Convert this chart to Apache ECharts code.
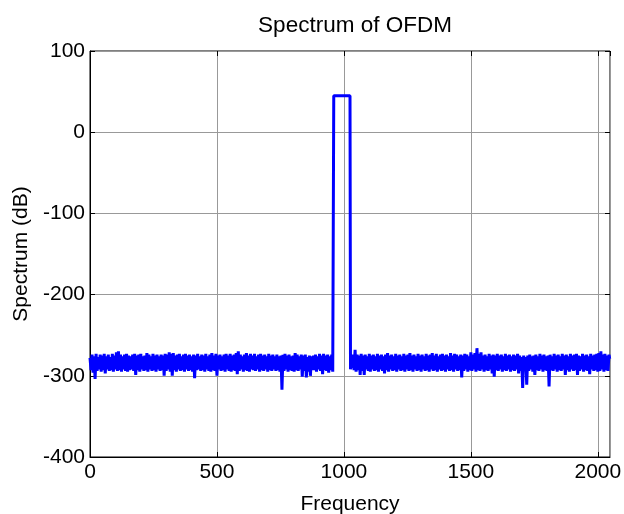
<!DOCTYPE html>
<html>
<head>
<meta charset="utf-8">
<script src="https://cdn.jsdelivr.net/npm/echarts@6/dist/echarts.min.js"></script>
<style>
  html, body { margin: 0; padding: 0; background: #fff; }
  #chart { width: 624px; height: 514px; }
</style>
</head>
<body>
<div id="chart"></div>
<script>
// noise floor left of the carrier block, one value every 4 bins starting at bin 0
const binStep = 4;
const leftStart = 0;
const noiseLeft = [
  -278, -293, -274, -296, -276, -304, -273, -294, -277, -292, -274, -295, -275, -293, -273, -297, -276, -292, -274, -294,
  -277, -293, -273, -295, -275, -292, -271, -294, -270, -293, -274, -295, -276, -292, -274, -294, -273, -295, -275, -293,
  -276, -292, -274, -294, -273, -299, -275, -293, -274, -295, -273, -292, -276, -294, -275, -293, -272, -295, -274, -292,
  -276, -294, -273, -293, -275, -295, -274, -292, -276, -294, -274, -293, -275, -300, -273, -294, -274, -292, -271, -295,
  -273, -300, -272, -293, -275, -295, -274, -292, -273, -294, -276, -293, -274, -295, -273, -292, -275, -294, -274, -293,
  -276, -295, -274, -303, -275, -293, -273, -292, -276, -294, -274, -293, -275, -295, -273, -292, -276, -294, -274, -295,
  -272, -293, -275, -294, -273, -300, -275, -292, -274, -294, -276, -293, -274, -295, -273, -292, -275, -294, -273, -295,
  -275, -293, -274, -294, -272, -298, -270, -294, -274, -292, -276, -295, -274, -293, -272, -294, -275, -295, -273, -292,
  -275, -293, -273, -294, -276, -292, -274, -295, -273, -293, -275, -294, -274, -292, -276, -295, -273, -293, -275, -294,
  -274, -292, -276, -294, -274, -293, -276, -295, -275, -317, -274, -294, -273, -292, -275, -295, -274, -293, -276, -294,
  -275, -295, -272, -293, -274, -294, -276, -292, -274, -301, -275, -294, -274, -302, -277, -295, -275, -300, -276, -293,
  -275, -293, -274, -295, -276, -292, -273, -294, -275, -298, -273, -293, -275, -294, -274, -296, -276, -293, -274, -295
];

// occupied subcarriers
const bandBins = [958, 960, 1024, 1026];
const bandLevels = [-293, 45, 45, -292];

// noise floor right of the carrier block
const rightStart = 1028;
const noiseRight = [
  -290, -294, -274, -293, -268, -295, -274, -293, -275, -299, -273, -294, -275, -299, -274, -292, -276, -294, -273, -295,
  -275, -292, -274, -294, -276, -293, -273, -295, -275, -292, -274, -294, -276, -297, -274, -293, -272, -295, -275, -292,
  -274, -294, -276, -293, -273, -295, -275, -292, -274, -294, -276, -293, -273, -295, -275, -292, -274, -294, -272, -293,
  -275, -295, -274, -292, -276, -294, -273, -293, -275, -295, -274, -292, -276, -294, -273, -293, -275, -295, -274, -292,
  -272, -294, -275, -293, -273, -295, -276, -292, -274, -294, -273, -293, -275, -295, -274, -292, -276, -294, -272, -293,
  -275, -295, -273, -292, -274, -294, -276, -293, -274, -302, -275, -294, -273, -292, -274, -295, -276, -293, -271, -294,
  -274, -292, -272, -295, -266, -293, -273, -294, -271, -292, -275, -295, -274, -293, -276, -294, -273, -292, -275, -297,
  -274, -301, -275, -293, -273, -294, -275, -292, -274, -295, -276, -293, -273, -294, -275, -292, -274, -295, -276, -293,
  -274, -294, -275, -292, -273, -297, -275, -294, -277, -315, -275, -293, -277, -311, -275, -294, -274, -292, -276, -295,
  -275, -299, -274, -293, -276, -294, -273, -292, -275, -295, -274, -293, -276, -294, -275, -313, -274, -293, -276, -294,
  -273, -292, -275, -295, -274, -293, -276, -294, -273, -292, -275, -299, -274, -293, -276, -295, -273, -292, -275, -294,
  -274, -293, -273, -299, -275, -294, -276, -292, -273, -295, -275, -293, -274, -294, -276, -298, -273, -292, -275, -294,
  -274, -293, -273, -295, -272, -294, -270, -292, -274, -295, -273, -293, -275, -294, -274
];
const lastBin = 2047;
const lastLevel = -279;

const xTicks = [0, 500, 1000, 1500, 2000];
const yTicks = [100, 0, -100, -200, -300, -400];

const points = [];
noiseLeft.forEach((v, i) => points.push([leftStart + i * binStep, v]));
bandBins.forEach((b, i) => points.push([b, bandLevels[i]]));
noiseRight.forEach((v, i) => points.push([rightStart + i * binStep, v]));
points.push([lastBin, lastLevel]);

const font = 'Liberation Sans, Arial, sans-serif';
const labelStyle = { color: '#000', fontSize: 21, fontFamily: font };
const plain = v => String(v);

const myChart = echarts.init(document.getElementById('chart'), null, { renderer: 'canvas' });

const hiddenAxis = {
  axisLine: { show: false, onZero: false },
  axisLabel: { show: false },
  splitLine: { show: false },
  axisTick: { show: true, inside: true, length: 5, lineStyle: { color: '#000' } },
};

myChart.setOption({
  animation: false,
  backgroundColor: '#fff',
  title: {
    text: 'Spectrum of OFDM',
    left: 350,
    textAlign: 'center',
    top: 9,
    textStyle: { color: '#000', fontSize: 22.5, fontWeight: 'normal', fontFamily: font },
  },
  grid: {
    left: 90,
    right: 14,
    top: 51,
    bottom: 57,
    outerBoundsMode: 'none',
    show: true,
    borderColor: '#000',
    borderWidth: 1,
  },
  xAxis: [
    {
      type: 'value',
      min: xTicks[0],
      max: 2048,
      interval: 500,
      name: 'Frequency',
      nameLocation: 'middle',
      nameGap: 37,
      nameTextStyle: labelStyle,
      axisLine: { show: true, onZero: false, lineStyle: { color: '#000', width: 1 } },
      axisTick: { inside: true, length: 5, lineStyle: { color: '#000' } },
      axisLabel: Object.assign({ margin: 5, showMaxLabel: false, formatter: plain }, labelStyle),
      splitLine: { show: true, lineStyle: { color: '#999', width: 1 } },
    },
    Object.assign({ type: 'value', position: 'top', min: xTicks[0], max: 2048, interval: 500 }, hiddenAxis),
  ],
  yAxis: [
    {
      type: 'value',
      min: yTicks[yTicks.length - 1],
      max: yTicks[0],
      interval: 100,
      name: 'Spectrum (dB)',
      nameLocation: 'middle',
      nameGap: 55,
      nameTextStyle: labelStyle,
      axisLine: { show: true, onZero: false, lineStyle: { color: '#000', width: 1 } },
      axisTick: { inside: true, length: 5, lineStyle: { color: '#000' } },
      axisLabel: Object.assign({ margin: 5, formatter: plain }, labelStyle),
      splitLine: { show: true, lineStyle: { color: '#999', width: 1 } },
    },
    Object.assign({ type: 'value', position: 'right', min: -400, max: 100, interval: 100 }, hiddenAxis),
  ],
  series: [
    {
      name: 'Spectrum',
      type: 'line',
      data: points,
      showSymbol: false,
      symbol: 'none',
      lineStyle: { color: '#0000ff', width: 3 },
      itemStyle: { color: '#0000ff' },
      z: 5,
    },
  ],
});

window.addEventListener('resize', function () {
  myChart.resize();
});
</script>
</body>
</html>
